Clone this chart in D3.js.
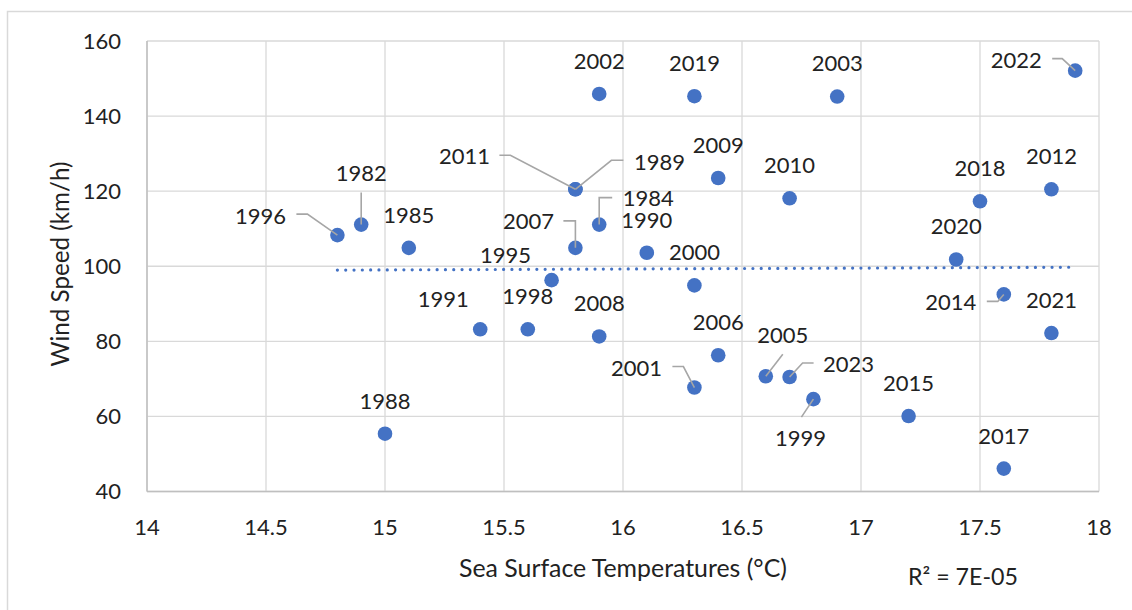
<!DOCTYPE html>
<html><head><meta charset="utf-8">
<script src="https://cdn.jsdelivr.net/npm/d3@7"></script>
<style>
body{margin:0;background:#fff}
text{font-family:Lato, "Open Sans", sans-serif;fill:#222}
</style>
</head><body>
<svg id="c" width="1132" height="610"></svg>
<script>
// ---------- data ----------
const years     = [1996, 1982, 1985, 1988, 1991, 1998, 1995, 2011, 1989, 2007, 1984, 1990, 2002, 2008, 2000, 2019,
                   2001, 2009, 2006, 2005, 2023, 2010, 1999, 2003, 2015, 2020, 2018, 2014, 2017, 2012, 2021, 2022];
const sst       = [14.8, 14.9, 15.1, 15.0, 15.4, 15.6, 15.7, 15.8, 15.8, 15.8, 15.9, 16.1, 15.9, 15.9, 16.3, 16.3,
                   16.3, 16.4, 16.4, 16.6, 16.7, 16.7, 16.8, 16.9, 17.2, 17.4, 17.5, 17.6, 17.6, 17.8, 17.8, 17.9];
const windSpeed = [108.3, 111.1, 104.9, 55.4, 83.2, 83.2, 96.3, 120.5, 120.5, 104.9, 111.1, 103.6, 145.9, 81.3, 94.9, 145.3,
                   67.7, 123.5, 76.3, 70.7, 70.5, 118.1, 64.6, 145.2, 60.1, 101.8, 117.3, 92.5, 46.1, 120.5, 82.2, 152.1];
const xTicks = [14, 14.5, 15, 15.5, 16, 16.5, 17, 17.5, 18];
const yTicks = [40, 60, 80, 100, 120, 140, 160];
const xTitle = "Sea Surface Temperatures (°C)";
const yTitle = "Wind Speed (km/h)";
const r2Text = "R² = 7E-05";

// ---------- label layout (offsets from the point, px) ----------
const labelLayout = {
  1996:{dx:-77,dy:-19,leader:[[-41,-21],[-30,-21],[0,0]]},
  1982:{dx:0,dy:-51,leader:[[0,-32],[0,0]]},
  2011:{dx:-111,dy:-33,leader:[[-76,-34],[-65,-34],[0,0]]},
  1989:{dx:84,dy:-27,leader:[[0,0],[36,-29],[48,-29]]},
  2007:{dx:-47,dy:-27,leader:[[-12,-27],[0,-27],[0,0]]},
  1984:{dx:49,dy:-26,leader:[[0,0],[0,-27],[13,-27]]},
  2001:{dx:-58,dy:-19,leader:[[-22,-21],[-11,-21],[0,0]]},
  2005:{dx:17,dy:-41,leader:[[17,-22],[0,0]]},
  2023:{dx:59,dy:-13,leader:[[0,0],[13,-14],[24,-14]]},
  1999:{dx:-13,dy:39,leader:[[-12,18],[0,0]]},
  2014:{dx:-53,dy:8,leader:[[-17,7],[-6,7],[0,0]]},
  2022:{dx:-59,dy:-11,leader:[[-23,-12],[-13,-12],[0,0]]},
  1991:{dx:-37,dy:-30},
  1995:{dx:-46,dy:-25}
};
const defaultLabel = {dx:0,dy:-33};

// ---------- drawing ----------
const svg = d3.select("#c");
svg.append("rect").attr("width",1132).attr("height",610).attr("fill","#fff");
svg.append("rect").attr("x",7.5).attr("y",11.5).attr("width",1300).attr("height",800)
   .attr("fill","none").attr("stroke","#d9d9d9").attr("stroke-width",1.5);

const x = d3.scaleLinear().domain([14,18]).range([147,1099]);
const y = d3.scaleLinear().domain([40,160]).range([491.5,41]);

const fs = 22;
function fit(sel, target){
  const base = 20;
  sel.attr("font-size",base);
  const w = sel.node().getComputedTextLength();
  if (w>0) sel.attr("font-size", base*target/w);
  return sel;
}
// gridlines
svg.append("g").selectAll("line").data(xTicks).join("line")
  .attr("x1",d=>x(d)).attr("x2",d=>x(d)).attr("y1",y(160)).attr("y2",y(40))
  .attr("stroke","#d9d9d9").attr("stroke-width",1.3);
svg.append("g").selectAll("line").data(yTicks).join("line")
  .attr("x1",x(14)).attr("x2",x(18)).attr("y1",d=>y(d)).attr("y2",d=>y(d))
  .attr("stroke","#d9d9d9").attr("stroke-width",1.3);
// axis lines
svg.append("line").attr("x1",x(14)).attr("x2",x(18)).attr("y1",y(40)).attr("y2",y(40))
  .attr("stroke","#bfbfbf").attr("stroke-width",1.5);
svg.append("line").attr("x1",x(14)).attr("x2",x(14)).attr("y1",y(160)).attr("y2",y(40))
  .attr("stroke","#bfbfbf").attr("stroke-width",1.5);

// tick labels
svg.append("g").selectAll("text").data(xTicks).join("text")
  .attr("x",d=>x(d)).attr("y",527+fs*0.36).attr("text-anchor","middle")
  .attr("font-size",fs).text(d=>d);
svg.append("g").selectAll("text").data(yTicks).join("text")
  .attr("x",121).attr("y",d=>y(d)+fs*0.36).attr("text-anchor","end")
  .attr("font-size",fs).text(d=>d);

// titles
fit(svg.append("text").attr("x",623).attr("y",577).attr("text-anchor","middle").text(xTitle), 328);
fit(svg.append("text").attr("transform","translate(69,264) rotate(-90)").attr("text-anchor","middle").text(yTitle), 205);
fit(svg.append("text").attr("x",908).attr("y",585).attr("text-anchor","start").text(r2Text), 110);

// trendline (least squares)
const n = sst.length;
const mx = d3.mean(sst), my = d3.mean(windSpeed);
let sxy=0, sxx=0;
for(let i=0;i<n;i++){ sxy+=(sst[i]-mx)*(windSpeed[i]-my); sxx+=(sst[i]-mx)**2; }
const slope = sxy/sxx, icpt = my - slope*mx;
const [xmin,xmax] = d3.extent(sst);
svg.append("line")
  .attr("x1",x(xmin)).attr("y1",y(icpt+slope*xmin))
  .attr("x2",x(xmax)).attr("y2",y(icpt+slope*xmax))
  .attr("stroke","#4472c4").attr("stroke-width",3.2)
  .attr("stroke-linecap","round").attr("stroke-dasharray","0.01 8.3");

const pts = years.map((yr,i)=>({yr, px:x(sst[i]), py:y(windSpeed[i])}));
// markers
svg.append("g").selectAll("circle").data(pts).join("circle")
  .attr("cx",d=>d.px).attr("cy",d=>d.py).attr("r",7.3).attr("fill","#4472c4");
// leader lines
svg.append("g").selectAll("path").data(pts.filter(d=>labelLayout[d.yr] && labelLayout[d.yr].leader)).join("path")
  .attr("d",d=>d3.line()(labelLayout[d.yr].leader.map(p=>[d.px+p[0], d.py+p[1]])))
  .attr("fill","none").attr("stroke","#a6a6a6").attr("stroke-width",1.6);
// labels
svg.append("g").selectAll("text").data(pts).join("text")
  .attr("x",d=>d.px+(labelLayout[d.yr]||defaultLabel).dx)
  .attr("y",d=>d.py+(labelLayout[d.yr]||defaultLabel).dy+fs*0.36)
  .attr("text-anchor","middle").attr("font-size",fs).text(d=>d.yr);
</script>
</body></html>
